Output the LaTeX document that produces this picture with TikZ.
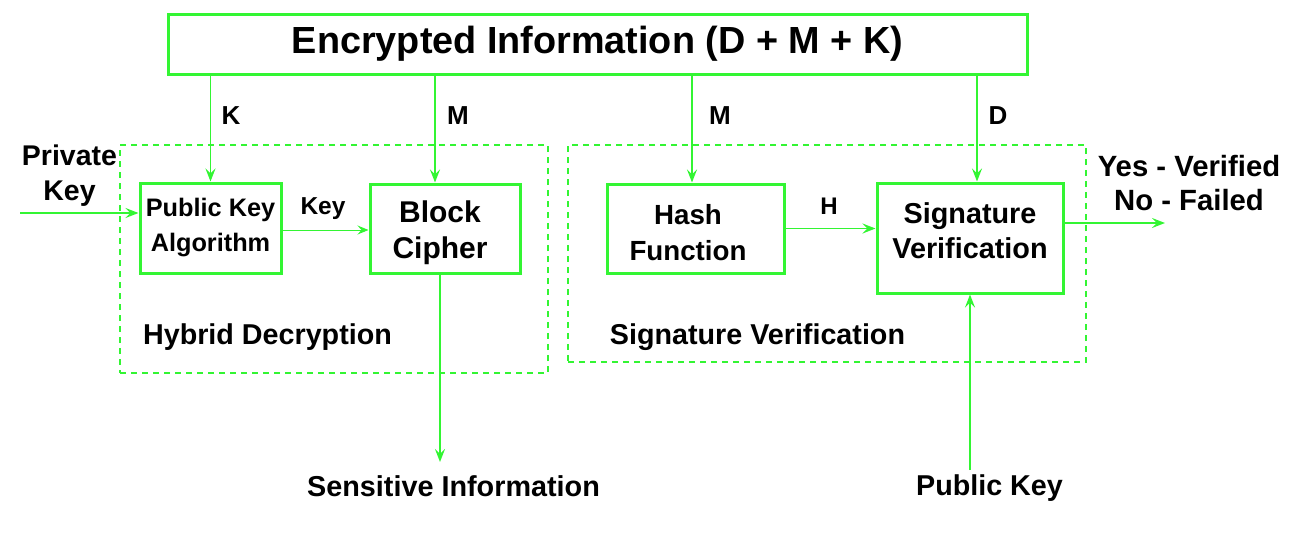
\documentclass[tikz,border=0pt]{standalone}
\usepackage{fontspec}
\setmainfont{Liberation Sans}
\usetikzlibrary{arrows.meta}
\definecolor{grn}{RGB}{51,245,51}
\newcommand{\fs}[2]{\fontsize{#1}{#2}\selectfont\bfseries}
\begin{document}
\begin{tikzpicture}[x=1pt,y=-1pt,
  box/.style={draw=grn,line width=3pt,rectangle,inner sep=0pt,align=center},
  grp/.style={draw=grn,line width=1.8pt,dash pattern=on 6pt off 5pt,rectangle,inner sep=0pt},
  arr/.style={draw=grn,line width=1.8pt,-{Stealth[length=13pt,width=10pt,inset=5pt]}},
  thinarr/.style={draw=grn,line width=1pt,-{Stealth[length=11pt,width=9pt,inset=4pt]}},
  lbl/.style={inner sep=0pt,align=center}]
\useasboundingbox (0,0) rectangle (1309,536);
% groups
\node[grp,minimum width=428pt,minimum height=228pt] (hyb) at (334,259) {};
\node[grp,minimum width=518pt,minimum height=217pt] (sig) at (827,253.5) {};
% boxes
\node[box,minimum width=859pt,minimum height=60pt,font=\fs{37.8}{40}] (top) at (597.5,44) {Encrypted Information (D + M + K)};
\node[box,minimum width=141pt,minimum height=90pt] (pka) at (210.5,228) {};
\node[box,minimum width=150pt,minimum height=89pt] (bc) at (445,228.5) {};
\node[box,minimum width=177pt,minimum height=89pt] (hf) at (695.5,228.5) {};
\node[box,minimum width=186pt,minimum height=110pt] (sv) at (970,238) {};
% box texts
\node[lbl,font=\fs{25.3}{35}] (pkat) at (210.5,228) {Public Key\\Algorithm};
\node[lbl,font=\fs{30}{36}] (bct) at (440,233) {Block\\Cipher};
\node[lbl,font=\fs{27.7}{36}] (hft) at (688,233) {Hash\\Function};
\node[lbl,font=\fs{28.8}{35}] (svt) at (970,231) {Signature\\Verification};
% labels
\node[lbl,font=\fs{26}{30}] (lk) at (231,116) {K};
\node[lbl,font=\fs{26}{30}] (lm1) at (458,116) {M};
\node[lbl,font=\fs{26}{30}] (lm2) at (720,116) {M};
\node[lbl,font=\fs{26}{30}] (ld) at (998,116) {D};
\node[lbl,font=\fs{28.5}{35}] (priv) at (69.5,176) {Private\\Key};
\node[lbl,font=\fs{24.5}{28}] (lkey) at (323,209) {Key};
\node[lbl,font=\fs{24}{28}] (lh) at (829,206) {H};
\node[lbl,font=\fs{29.3}{34}] (res) at (1189,183) {Yes - Verified\\No - Failed};
\node[lbl,font=\fs{28.7}{32}] (lhyb) at (267.5,337) {Hybrid Decryption};
\node[lbl,font=\fs{28.7}{32}] (lsig) at (757.5,337) {Signature Verification};
\node[lbl,font=\fs{28.8}{32}] (sens) at (453.5,486) {Sensitive Information};
\node[lbl,font=\fs{28.7}{32}] (pub) at (989.5,488) {Public Key};
% coordinates
\coordinate (pin) at (20,213);
\coordinate (sout) at (440,462);
\coordinate (vout) at (1165,223);
\coordinate (pubin) at (970,470);
% connectors
\draw[arr] (top.south -| pka.north) -- (pka.north);
\draw[arr] (top.south -| 435,0) -- (bc.north -| 435,0);
\draw[arr] (top.south -| 692,0) -- (hf.north -| 692,0);
\draw[arr] (top.south -| 977,0) -- (sv.north -| 977,0);
\draw[arr] (pin) -- (pin -| pka.west);
\draw[thinarr] (pka.east |- 0,230) -- (bc.west |- 0,230);
\draw[arr] (hf.east) -- (hf.east -| sv.west);
\draw[arr] (sv.east |- vout) -- (vout);
\draw[arr] (bc.south -| sout) -- (sout);
\draw[arr] (pubin) -- (sv.south);
\end{tikzpicture}
\end{document}
